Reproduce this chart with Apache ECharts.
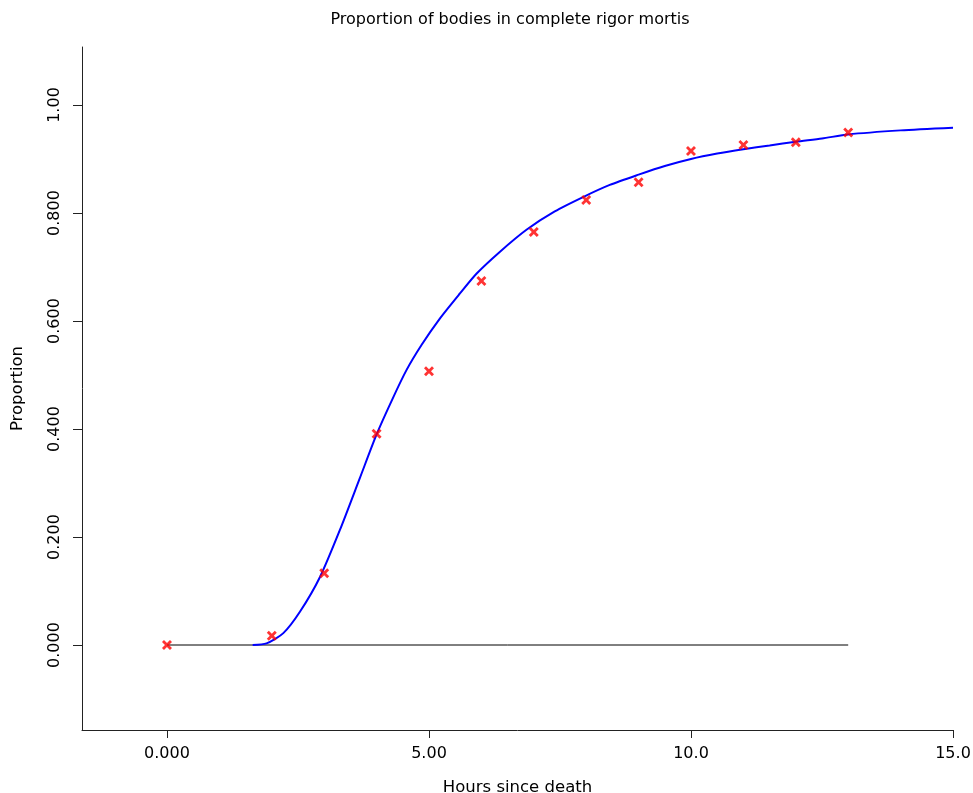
<!DOCTYPE html>
<html>
<head>
<meta charset="utf-8">
<script src="https://cdn.jsdelivr.net/npm/echarts@6/dist/echarts.min.js"></script>
<style>html,body{margin:0;padding:0;background:#fff}#c{width:973px;height:793px}</style>
</head>
<body>
<div id="c"></div>
<script>
// Observed data: hours since death vs proportion in complete rigor
const hours = [0, 2, 3, 4, 5, 6, 7, 8, 9, 10, 11, 12, 13];
const proportion = [0, 0.017, 0.133, 0.391, 0.507, 0.674, 0.765, 0.824, 0.857, 0.915, 0.926, 0.931, 0.949];

// Fitted curve
const curveX = [1.635, 1.90, 2.22, 2.54, 2.92, 3.30, 3.68, 4.00, 4.30, 4.57, 4.86, 5.21, 5.59, 5.91, 6.35, 6.86, 7.40, 7.95, 8.45, 9.00, 9.50, 10.00, 10.50, 11.00, 11.50, 12.00, 12.50, 13.00, 14.00, 15.00];
const curveY = [0, 0.003, 0.022, 0.062, 0.126, 0.213, 0.309, 0.390, 0.455, 0.509, 0.556, 0.605, 0.651, 0.688, 0.728, 0.769, 0.803, 0.830, 0.852, 0.871, 0.887, 0.900, 0.910, 0.918, 0.925, 0.932, 0.938, 0.9455, 0.953, 0.958];

// Zero reference line
const zeroLineX = [0, 13];
const zeroLineY = [0, 0];

// Axis ticks
const xTickValues = [0, 5, 10, 15];
const xTickLabels = ['0.000', '5.00', '10.0', '15.0'];
const yTickValues = [0, 0.2, 0.4, 0.6, 0.8, 1.0];
const yTickLabels = ['0.000', '0.200', '0.400', '0.600', '0.800', '1.00'];

const FONT = 'DejaVu Sans';
const AXIS_COLOR = '#222';

const chart = echarts.init(document.getElementById('c'), null, {renderer: 'canvas'});

function lbl(values, labels) {
  return v => {
    for (let i = 0; i < values.length; i++) if (Math.abs(values[i] - v) < 1e-9) return labels[i];
    return '';
  };
}

const xMarkPath = 'path://M0,2 L2,0 L5,3 L8,0 L10,2 L7,5 L10,8 L8,10 L5,7 L2,10 L0,8 L3,5 Z';

chart.setOption({
  animation: false,
  backgroundColor: '#fff',
  title: {
    text: 'Proportion of bodies in complete rigor mortis',
    left: 505, top: 7, textAlign: 'center',
    textStyle: {fontFamily: FONT, fontSize: 16, fontWeight: 'normal', color: '#000'}
  },
  grid: {left: 82, right: 20, top: 47, bottom: 63, containLabel: false, outerBoundsMode: 'none'},
  xAxis: {
    type: 'value', min: -1.622, max: 15,
    name: 'Hours since death', nameLocation: 'middle', nameGap: 49,
    nameTextStyle: {fontFamily: FONT, fontSize: 16.5, color: '#000'},
    axisLine: {show: true, onZero: false, lineStyle: {color: AXIS_COLOR, width: 1}},
    axisTick: {show: true, length: 8, customValues: xTickValues, lineStyle: {color: AXIS_COLOR}},
    axisLabel: {show: true, customValues: xTickValues, formatter: lbl(xTickValues, xTickLabels), margin: 16,
      fontFamily: FONT, fontSize: 16, color: '#000'},
    splitLine: {show: false}
  },
  yAxis: {
    type: 'value', min: -0.1574, max: 1.1074,
    name: 'Proportion', nameLocation: 'middle', nameGap: 56, nameRotate: 90,
    nameTextStyle: {fontFamily: FONT, fontSize: 16.5, color: '#000'},
    axisLine: {show: true, onZero: false, lineStyle: {color: AXIS_COLOR, width: 1}},
    axisTick: {show: true, length: 9, customValues: yTickValues, lineStyle: {color: AXIS_COLOR}},
    axisLabel: {show: true, customValues: yTickValues, formatter: lbl(yTickValues, yTickLabels), rotate: 90, margin: 19,
      fontFamily: FONT, fontSize: 16, color: '#000'},
    splitLine: {show: false}
  },
  series: [
    {
      type: 'line', name: 'zero', silent: true, symbol: 'none',
      data: zeroLineX.map((x, i) => [x, zeroLineY[i]]),
      lineStyle: {color: '#000', width: 1}, z: 1
    },
    {
      type: 'line', name: 'fit', silent: true, symbol: 'none', smooth: 0.25,
      data: curveX.map((x, i) => [x, curveY[i]]),
      lineStyle: {color: '#0000ff', width: 2}, z: 2
    },
    {
      type: 'scatter', name: 'observed', symbol: xMarkPath, symbolSize: 10,
      data: hours.map((x, i) => [x, proportion[i]]),
      itemStyle: {color: '#ff0000'}, z: 3
    }
  ]
});
</script>
</body>
</html>
